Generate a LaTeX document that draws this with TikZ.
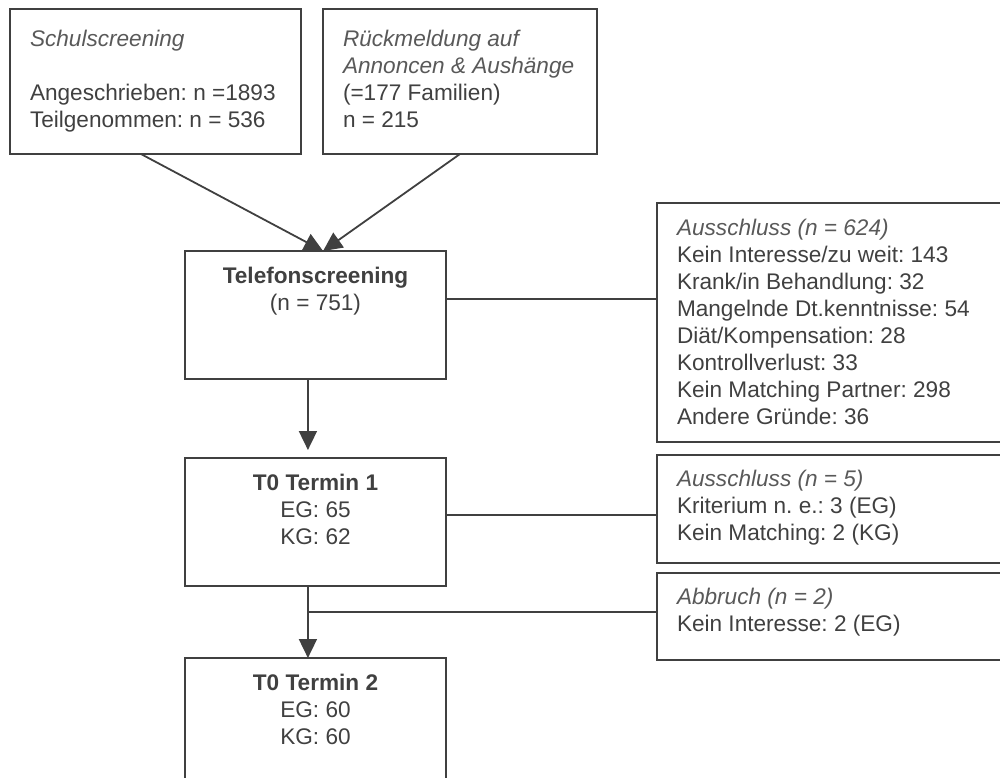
\documentclass[tikz,border=0pt]{standalone}
\usepackage{fontspec}
\setmainfont{Liberation Sans}
\usetikzlibrary{arrows.meta,calc}
\definecolor{ln}{RGB}{64,64,64}
\definecolor{tx}{RGB}{64,64,64}
\definecolor{hd}{RGB}{89,89,89}
\newcommand{\st}{\rule{0pt}{11pt}}
\newcommand{\hdt}[1]{\textit{\color{hd}#1}}
\frenchspacing
\tikzset{
  box/.style={draw=ln, line width=0.9pt, rectangle, inner sep=0pt, outer sep=0pt},
  txt/.style={inner sep=0pt, outer sep=0pt, text=tx, align=left, anchor=north west,
              font=\fontsize{11.3}{13.5}\selectfont\frenchspacing},
  ctxt/.style={txt, align=center, anchor=north},
  con/.style={draw=ln, line width=0.9pt},
  arr/.style={con, -{Triangle[length=9.5pt,width=9pt]}}
}
\begin{document}
\begin{tikzpicture}[x=0.5pt,y=-0.5pt]
\useasboundingbox (0,0) rectangle (1000,777);
\clip (0,0) rectangle (1000,777);
% boxes
\node[box, minimum width=145.5pt, minimum height=72.5pt] (b1) at (155.5,81.5) {};
\node[box, minimum width=137pt, minimum height=72.5pt] (b2) at (460,81.5) {};
\node[box, minimum width=130.5pt, minimum height=64pt] (tel) at (315.5,315) {};
\node[box, minimum width=130.5pt, minimum height=64pt] (t1) at (315.5,522) {};
\node[box, minimum width=130.5pt, minimum height=64pt] (t2) at (315.5,722) {};
\node[box, minimum width=176.5pt, minimum height=119.5pt] (a624) at (833.5,322.5) {};
\node[box, minimum width=176.5pt, minimum height=54pt] (a5) at (833.5,509) {};
\node[box, minimum width=176.5pt, minimum height=43.5pt] (abb) at (833.5,616.5) {};
% texts
\node[txt] (b1t) at (30,24) {\st\hdt{Schulscreening}\\[13.5pt]Angeschrieben: n =1893\\Teilgenommen: n = 536};
\node[txt] (b2t) at (343,24) {\st\hdt{Rückmeldung auf}\\\hdt{Annoncen \& Aushänge}\\(=177 Familien)\\n = 215};
\node[ctxt] (telt) at (315.5,261) {\st\textbf{Telefonscreening}\\(n = 751)};
\node[ctxt] (t1t) at (315.5,468) {\st\textbf{T0 Termin 1}\\EG: 65\\KG: 62};
\node[ctxt] (t2t) at (315.5,668) {\st\textbf{T0 Termin 2}\\EG: 60\\KG: 60};
\node[txt] (a624t) at (677,213) {\st\hdt{Ausschluss (n = 624)}\\Kein Interesse/zu weit: 143\\Krank/in Behandlung: 32\\Mangelnde Dt.kenntnisse: 54\\Diät/Kompensation: 28\\Kontrollverlust: 33\\Kein Matching Partner: 298\\Andere Gründe: 36};
\node[txt] (a5t) at (677,464) {\st\hdt{Ausschluss (n = 5)}\\Kriterium n. e.: 3 (EG)\\Kein Matching: 2 (KG)};
\node[txt] (abbt) at (677,582) {\st\hdt{Abbruch (n = 2)}\\Kein Interesse: 2 (EG)};
% connector points
\coordinate (s1) at ($(b1.south west)!0.45!(b1.south east)$);
\coordinate (tin) at ($(tel.north west)!0.529!(tel.north east)$);
\coordinate (tels) at ($(tel.south west)!0.471!(tel.south east)$);
\coordinate (t1n) at ($(t1.north west)!0.471!(t1.north east)$);
\coordinate (t1s) at ($(t1.south west)!0.471!(t1.south east)$);
\coordinate (t2n) at ($(t2.north west)!0.471!(t2.north east)$);
\coordinate (p1) at ($(tel.north east)!0.375!(tel.south east)$);
\coordinate (p2) at ($(t1.north east)!0.445!(t1.south east)$);
\coordinate (j) at ($(t1s)!0.361!(t2n)$);
% connectors
\draw[arr] (s1) -- (tin);
\draw[arr] (b2.south) -- (tin);
\draw[arr, shorten >=4pt] (tels) -- (t1n);
\draw[arr] (t1s) -- (t2n);
\draw[con] (p1) -- (p1 -| a624.west);
\draw[con] (p2) -- (p2 -| a5.west);
\draw[con] (j) -- (j -| abb.west);
\end{tikzpicture}
\end{document}
